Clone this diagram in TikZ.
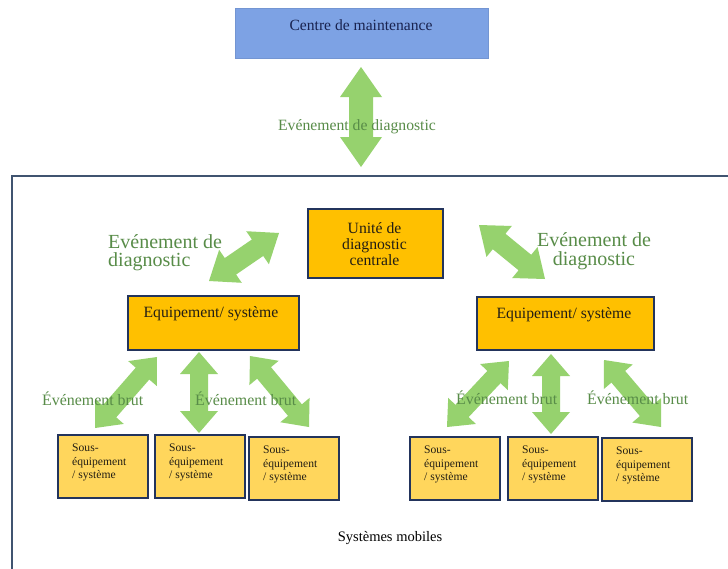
\documentclass[tikz,border=0pt]{standalone}
\usepackage{fontspec}
\setmainfont{Liberation Serif}
\usetikzlibrary{calc}
\definecolor{boxblue}{RGB}{125,162,228}
\definecolor{orng}{RGB}{255,192,0}
\definecolor{lorng}{RGB}{255,214,92}
\definecolor{navy}{RGB}{35,52,92}
\definecolor{framec}{RGB}{64,84,112}
\definecolor{agreen}{RGB}{150,210,110}
\definecolor{tgreen}{RGB}{88,140,72}
\definecolor{ttext}{RGB}{35,30,20}
\definecolor{ctext}{RGB}{25,35,80}
\newcommand\garrow[5]{%
  \fill[agreen] (#1) -- ($(#1)!#3!(#2)!#4!90:(#2)$) -- ($(#1)!#3!(#2)!#5!90:(#2)$)
   -- ($(#2)!#3!(#1)!#5!-90:(#1)$) -- ($(#2)!#3!(#1)!#4!-90:(#1)$) -- (#2)
   -- ($(#2)!#3!(#1)!#4!90:(#1)$) -- ($(#2)!#3!(#1)!#5!90:(#1)$)
   -- ($(#1)!#3!(#2)!#5!-90:(#2)$) -- ($(#1)!#3!(#2)!#4!-90:(#2)$) -- cycle;}
\tikzset{
  obox/.style={draw=navy, line width=1.8pt, fill=orng, inner sep=0pt, anchor=north west},
  sbox/.style={draw=navy, line width=1.8pt, fill=lorng, inner sep=0pt, anchor=north west,
    minimum width=90, minimum height=63},
  stext/.style={anchor=north west, inner sep=0pt, align=left, text=ttext,
    font=\fontsize{11.6}{13.5}\selectfont},
  btext/.style={inner sep=0pt, text=ttext, font=\fontsize{15.7}{16}\selectfont},
  glab/.style={inner sep=0pt, text=tgreen},
  brut/.style={inner sep=0pt, anchor=base west, text=tgreen, font=\fontsize{15.9}{18}\selectfont},
}
\begin{document}
\begin{tikzpicture}[x=1pt,y=-1pt]
\useasboundingbox (0,0) rectangle (728,568);
\fill[white] (0,0) rectangle (728,568);
% frame
\draw[framec, line width=2pt] (12,176) rectangle (745,590);
% top box
\node[fill=boxblue, draw=boxblue!92!black, line width=0.4pt, minimum width=253, minimum height=50,
  anchor=north west, inner sep=0pt] (cm) at (235,8) {};
\node[inner sep=0pt, text=ctext, font=\fontsize{15.6}{18}\selectfont] (cmt) at (361,25) {Centre de maintenance};
% top arrow
\coordinate (t1) at (361,67); \coordinate (t2) at (361,167);
\garrow{t1}{t2}{30pt}{21pt}{12pt}
\node[inner sep=0pt, text=tgreen, font=\fontsize{15.7}{18}\selectfont] (tl) at (357,127) {Evénement de diagnostic};
% central unit
\node[obox, minimum width=135, minimum height=69] (cu) at (307,208) {};
\node[btext, align=center] (cut) at (374.5,244) {Unité de\\diagnostic\\centrale};
% equipment boxes
\node[obox, minimum width=171, minimum height=54] (el) at (127,295) {};
\node[btext] (elt) at (211,314) {Equipement/ système};
\node[obox, minimum width=177, minimum height=53] (er) at (476,296) {};
\node[btext] (ert) at (564,315) {Equipement/ système};
% upper diagonal arrows
\coordinate (d1a) at (279,233); \coordinate (d1b) at (209,281);
\garrow{d1a}{d1b}{26pt}{20pt}{10pt}
\coordinate (d2a) at (479,225); \coordinate (d2b) at (545,279);
\garrow{d2a}{d2b}{26pt}{20pt}{10pt}
\node[glab, anchor=west, align=left, font=\fontsize{20}{18}\selectfont] (gl) at (108,253) {Evénement de\\diagnostic};
\node[glab, align=center, font=\fontsize{20}{19}\selectfont] (gr) at (594,251) {Evénement de\\diagnostic};
% sub boxes
\foreach \n/\x/\y in {l1/57/434, l2/154/434, l3/248/436, r1/409/436, r2/507/436, r3/601/437}{
  \node[sbox] (\n) at (\x,\y) {};
  \node[stext] (\n t) at ([xshift=15pt,yshift=-10pt]\n.north west) {Sous-\\équipement\\/ système};
}
% lower arrows
\coordinate (a1) at (157,357); \coordinate (a2) at (95,428);
\garrow{a1}{a2}{22pt}{19pt}{9pt}
\coordinate (a3) at (199,352); \coordinate (a4) at (199,433);
\garrow{a3}{a4}{22pt}{19pt}{9pt}
\coordinate (a5) at (250,356); \coordinate (a6) at (309,427);
\garrow{a5}{a6}{22pt}{19pt}{9pt}
\coordinate (b1) at (509,361); \coordinate (b2) at (447,427);
\garrow{b1}{b2}{22pt}{19pt}{9pt}
\coordinate (b3) at (551,354); \coordinate (b4) at (551,434);
\garrow{b3}{b4}{22pt}{19pt}{9pt}
\coordinate (b5) at (604,360); \coordinate (b6) at (661,427);
\garrow{b5}{b6}{22pt}{19pt}{9pt}
\node[brut] (eb1) at (42,405) {Événement brut};
\node[brut] (eb2) at (195,405) {Événement brut};
\node[brut] (eb3) at (456,404) {Événement brut};
\node[brut] (eb4) at (587,404) {Événement brut};
% caption
\node[inner sep=0pt, text=black, font=\fontsize{14.5}{16}\selectfont] (sm) at (390,538) {Systèmes mobiles};
\end{tikzpicture}
\end{document}
